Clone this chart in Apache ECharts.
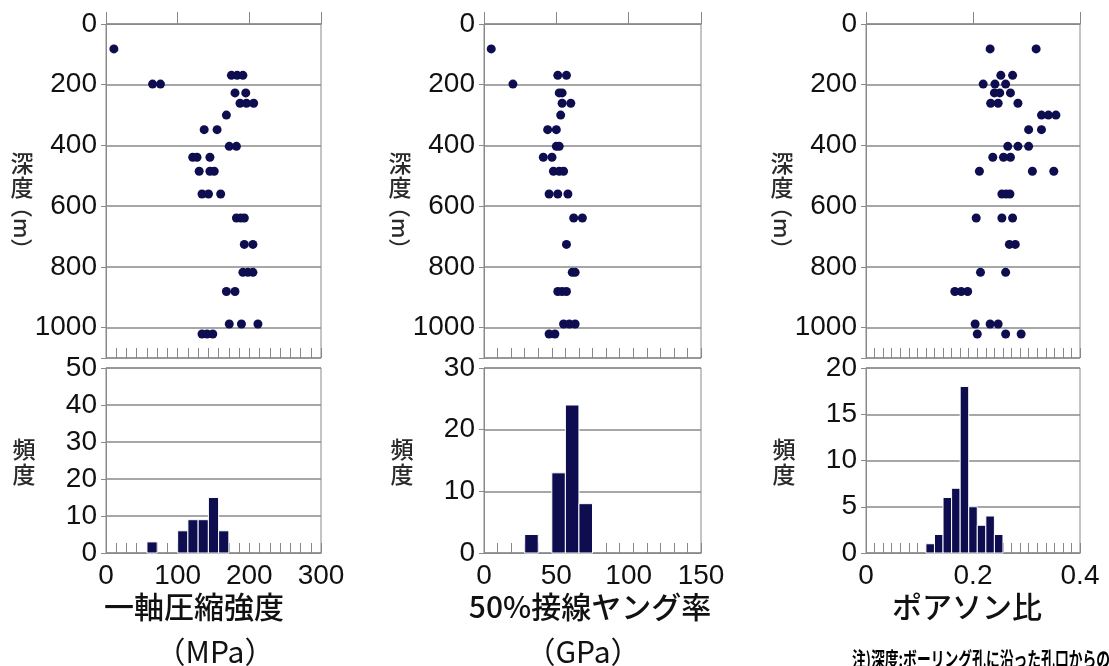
<!DOCTYPE html>
<html>
<head>
<meta charset="utf-8">
<script src="https://cdn.jsdelivr.net/npm/echarts@6/dist/echarts.min.js"></script>
<style>
  html, body { margin: 0; padding: 0; background: #ffffff; }
  #chart { width: 1109px; height: 666px; }
</style>
</head>
<body>
<div id="chart"></div>
<script>
// Rock test results along the borehole: value vs depth (top) and frequency histogram (bottom)

// Uniaxial compressive strength (MPa) vs depth (m)
const ucsPoints = [
  [11, 82],
  [175, 169], [183, 169], [191, 169],
  [65, 198], [76, 198],
  [180, 227], [195, 227],
  [187, 261], [196, 261], [206, 261],
  [168, 300],
  [137, 348], [155, 348],
  [172, 403], [182, 403],
  [121, 439], [127, 439], [145, 439],
  [130, 485], [145, 485], [151, 485],
  [134, 560], [143, 560], [160, 560],
  [182, 639], [188, 639], [193, 639],
  [193, 726], [205, 726],
  [191, 818], [198, 818], [205, 818],
  [168, 881], [180, 881],
  [172, 988], [189, 988], [212, 988],
  [134, 1021], [141, 1021], [149, 1021]
];
// 50% tangent Young's modulus (GPa) vs depth (m)
const youngPoints = [
  [5, 82],
  [51, 169], [57, 169],
  [20, 198],
  [52, 227], [54, 227],
  [54, 261], [60, 261],
  [53, 300],
  [44, 348], [50, 348],
  [50, 403], [52, 403],
  [41, 439], [47, 439],
  [48, 485], [52, 485], [55, 485],
  [45, 560], [51, 560], [58, 560],
  [62, 639], [68, 639],
  [57, 726],
  [61, 818], [63, 818],
  [51, 881], [54, 881], [57, 881],
  [55, 988], [59, 988], [63, 988],
  [45, 1021], [49, 1021]
];
// Poisson's ratio vs depth (m)
const poissonPoints = [
  [0.232, 82], [0.318, 82],
  [0.252, 169], [0.274, 169],
  [0.219, 198], [0.241, 198], [0.261, 198],
  [0.240, 227], [0.250, 227], [0.270, 227],
  [0.233, 261], [0.247, 261], [0.284, 261],
  [0.328, 300], [0.341, 300], [0.355, 300],
  [0.304, 348], [0.328, 348],
  [0.265, 403], [0.284, 403], [0.304, 403],
  [0.237, 439], [0.257, 439], [0.270, 439],
  [0.212, 485], [0.311, 485], [0.351, 485],
  [0.254, 560], [0.262, 560], [0.269, 560],
  [0.206, 639], [0.254, 639], [0.274, 639],
  [0.268, 726], [0.279, 726],
  [0.214, 818], [0.261, 818],
  [0.166, 881], [0.178, 881], [0.190, 881],
  [0.204, 988], [0.232, 988], [0.247, 988],
  [0.208, 1021], [0.261, 1021], [0.290, 1021]
];

// Histogram bin counts (equal-width bins from 0 to the axis maximum)
const ucsBinWidth = 300 / 21;
const ucsCounts = [0, 0, 0, 0, 3, 0, 0, 6, 9, 9, 15, 6, 0, 0, 0, 0, 0, 0, 0, 0, 0];
const youngBinWidth = 150 / 16;
const youngCounts = [0, 0, 0, 3, 0, 13, 24, 8, 0, 0, 0, 0, 0, 0, 0, 0];
const poissonBinWidth = 0.016;
const poissonCounts = [0, 0, 0, 0, 0, 0, 0, 1, 2, 6, 7, 18, 5, 3, 4, 2, 0, 0, 0, 0, 0, 0, 0, 0, 0];

// Axis settings and labels
const depthMax = 1100;
const depthInterval = 200;
const titles = ['一軸圧縮強度', '50%接線ヤング率', 'ポアソン比'];
const units = ['（MPa）', '（GPa）', ''];
const depthLabel = ['深', '度'];
const depthUnit = '（m）';
const freqLabel = '頻\n度';
const noteText = '注)深度:ボーリング孔に沿った孔口からの距離';

const panels = [
  { left: 106, width: 215, xMax: 300, xInterval: 100, points: ucsPoints,
    binWidth: ucsBinWidth, counts: ucsCounts, histMax: 50, histInterval: 10, titleX: 194, unitX: 215 },
  { left: 484, width: 217, xMax: 150, xInterval: 50, points: youngPoints,
    binWidth: youngBinWidth, counts: youngCounts, histMax: 30, histInterval: 10, titleX: 590, unitX: 583 },
  { left: 866, width: 214, xMax: 0.4, xInterval: 0.2, points: poissonPoints,
    binWidth: poissonBinWidth, counts: poissonCounts, histMax: 20, histInterval: 5, titleX: 967, unitX: 967 }
];

const NUM_FONT = '"Liberation Sans", Arial, sans-serif';
const JP_FONT = '"Noto Sans CJK JP", sans-serif';
const GRID_COLOR = '#8a8a8a';
const MARK_COLOR = '#0d0d4f';

const scatterTop = 24, scatterHeight = 334;
const histTop = 368, histHeight = 185;

const grid = [], xAxis = [], yAxis = [], series = [], graphic = [];

panels.forEach((p, i) => {
  const gScatter = i * 2, gHist = i * 2 + 1;
  [gScatter, gHist].forEach(g => {
    const isHist = g === gHist;
    grid.push({
      left: p.left, width: p.width,
      top: isHist ? histTop : scatterTop,
      height: isHist ? histHeight : scatterHeight,
      show: true, backgroundColor: '#ffffff',
      borderColor: GRID_COLOR, borderWidth: 1
    });
    // main value axis
    xAxis.push({
      type: 'value', gridIndex: g, min: 0, max: p.xMax, interval: p.xInterval,
      position: 'bottom',
      axisLine: { show: true, lineStyle: { color: GRID_COLOR, width: 1 } },
      axisTick: { show: !isHist, inside: true, length: 12, lineStyle: { color: '#888' } },
      axisLabel: {
        show: isHist, fontFamily: NUM_FONT, fontSize: 28, color: '#111', margin: 9,
        formatter: v => String(+v.toFixed(3))
      },
      splitLine: { show: false }
    });
    // bin-edge tick marks along the bottom edge
    xAxis.push({
      type: 'value', gridIndex: g, min: 0, max: p.xMax, interval: p.binWidth,
      position: 'bottom',
      axisLine: { show: false },
      axisTick: { show: true, inside: true, length: 10, lineStyle: { color: '#888', width: 1 } },
      axisLabel: { show: false },
      splitLine: { show: false }
    });
    yAxis.push(isHist ? {
      type: 'value', gridIndex: g, min: 0, max: p.histMax, interval: p.histInterval,
      axisLine: { show: true, lineStyle: { color: GRID_COLOR } },
      axisTick: { show: true, length: 5, lineStyle: { color: GRID_COLOR } },
      axisLabel: { fontFamily: NUM_FONT, fontSize: 28, color: '#111', margin: 9 },
      splitLine: { show: true, lineStyle: { color: GRID_COLOR, width: 1.5 } }
    } : {
      type: 'value', gridIndex: g, inverse: true, min: 0, max: depthMax, interval: depthInterval,
      axisLine: { show: true, lineStyle: { color: GRID_COLOR } },
      axisTick: { show: true, length: 5, lineStyle: { color: GRID_COLOR } },
      axisLabel: {
        fontFamily: NUM_FONT, fontSize: 28, color: '#111', margin: 9,
        formatter: v => (v > 1000 ? '' : String(v))
      },
      splitLine: { show: true, lineStyle: { color: GRID_COLOR, width: 1.5 } }
    });
  });

  // depth profile points
  series.push({
    type: 'scatter', xAxisIndex: gScatter * 2, yAxisIndex: gScatter,
    data: p.points, symbolSize: 9, itemStyle: { color: MARK_COLOR, opacity: 1 },
    silent: true, z: 5
  });

  // histogram bars from bin edges
  const bins = p.counts.map((c, k) => [k * p.binWidth, (k + 1) * p.binWidth, c]).filter(b => b[2] > 0);
  series.push({
    type: 'custom', xAxisIndex: gHist * 2, yAxisIndex: gHist,
    data: bins, encode: { x: [0, 1], y: 2 }, z: 5, silent: true,
    renderItem: (params, api) => {
      const p0 = api.coord([api.value(0), api.value(2)]);
      const p1 = api.coord([api.value(1), 0]);
      return {
        type: 'rect',
        shape: { x: p0[0], y: p0[1], width: p1[0] - p0[0], height: p1[1] - p0[1] },
        style: { fill: MARK_COLOR, stroke: '#ffffff', lineWidth: 1 }
      };
    }
  });

  // vertical axis names
  const lx = p.left - 84;
  graphic.push({
    type: 'text', x: lx, y: 151,
    style: { text: depthLabel.join('\n'), font: '500 23px ' + JP_FONT, fill: '#2a2a2a',
             textAlign: 'center', textVerticalAlign: 'top', lineHeight: 24 }
  });
  graphic.push({
    type: 'text', x: lx, y: 228, rotation: -Math.PI / 2,
    style: { text: depthUnit, font: '500 22px ' + JP_FONT, fill: '#2a2a2a',
             textAlign: 'center', textVerticalAlign: 'middle' }
  });
  graphic.push({
    type: 'text', x: p.left - 82, y: 437,
    style: { text: freqLabel, font: '500 23px ' + JP_FONT, fill: '#2a2a2a',
             textAlign: 'center', textVerticalAlign: 'top', lineHeight: 25 }
  });

  // quantity name and unit under each column
  graphic.push({
    type: 'text', x: p.titleX, y: 607,
    style: { text: titles[i], font: '500 30px ' + JP_FONT, fill: '#111',
             textAlign: 'center', textVerticalAlign: 'middle' }
  });
  if (units[i]) {
    graphic.push({
      type: 'text', x: p.unitX, y: 652,
      style: { text: units[i], font: '30px ' + JP_FONT, fill: '#111',
               textAlign: 'center', textVerticalAlign: 'middle' }
    });
  }
});

graphic.push({
  type: 'text', x: 852, y: 659, scaleX: 0.69,
  style: { text: noteText, font: 'bold 20px ' + JP_FONT, fill: '#000',
           textAlign: 'left', textVerticalAlign: 'middle' }
});

const chart = echarts.init(document.getElementById('chart'), null, { renderer: 'canvas' });
chart.setOption({
  backgroundColor: '#ffffff',
  animation: false,
  grid, xAxis, yAxis, series, graphic
});
</script>
</body>
</html>
